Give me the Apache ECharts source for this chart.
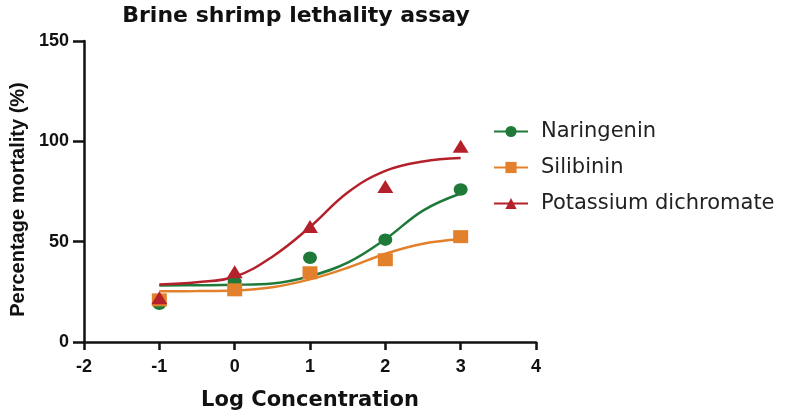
<!DOCTYPE html>
<html>
<head>
<meta charset="utf-8">
<script src="https://cdn.jsdelivr.net/npm/echarts@6/dist/echarts.min.js"></script>
<style>html,body{margin:0;padding:0;background:#fff}#c{width:788px;height:417px}</style>
</head>
<body>
<div id="c"></div>
<script>
// Measured points (Log Concentration, % mortality)
const logConc = [-1, 0, 1, 2, 3];
const naringenin = [19, 30, 42, 51, 76];
const silibinin = [21, 26, 34.5, 41, 52.5];
const potassium = [22, 35, 57.5, 77.5, 97.5];

// Fitted curves
const curveX = [-1, -0.5, 0, 0.5, 1, 1.5, 2, 2.5, 3];
const naringeninFit = [28.2, 28.3, 28.5, 29.2, 32.8, 39.5, 51.2, 65.5, 74];
const silibininFit = [25.3, 25.4, 25.7, 27.3, 31.2, 37, 44, 49, 51.2];
const potassiumFit = [28.7, 29.8, 32.5, 42.5, 57.3, 74.5, 85.3, 90, 91.7];

const xTicks = [-2, -1, 0, 1, 2, 3, 4];
const yTicks = [0, 50, 100, 150];

const names = ['Naringenin', 'Silibinin', 'Potassium dichromate'];
const colors = ['#1f7a3a', '#e3802c', '#b5212b'];
const symbols = ['circle', 'rect', 'triangle'];
const sizes = [[14, 12.5], [15, 13], [16, 13]];
const pts = [naringenin, silibinin, potassium];
const fits = [naringeninFit, silibininFit, potassiumFit];

const series = [];
names.forEach((n, i) => {
  series.push({
    name: n, type: 'line', smooth: 0.4,
    data: curveX.map((x, k) => [x, fits[i][k]]),
    symbol: symbols[i], showSymbol: false, symbolSize: 12,
    lineStyle: {color: colors[i], width: 2.5},
    itemStyle: {color: colors[i]},
    z: 2, silent: true
  });
  series.push({
    name: n + ' data', type: 'scatter',
    data: logConc.map((x, k) => [x, pts[i][k]]),
    symbol: symbols[i], symbolSize: sizes[i],
    itemStyle: {color: colors[i], opacity: 1},
    z: 3
  });
});

const chart = echarts.init(document.getElementById('c'));
chart.setOption({
  animation: false,
  title: {
    text: 'Brine shrimp lethality assay', left: 291, textAlign: 'center', top: 0,
    textStyle: {fontFamily: 'DejaVu Sans', fontWeight: 'bold', fontSize: 22, color: '#111'}
  },
  legend: {
    data: names, orient: 'vertical', left: 488, top: 116,
    itemWidth: 34, itemHeight: 14, itemGap: 15,
    textStyle: {fontFamily: 'DejaVu Sans', fontSize: 21, color: '#222', padding: [0, 0, 0, 8]}
  },
  grid: {left: 83, right: 252, top: 41, bottom: 75},
  xAxis: {
    type: 'value', min: xTicks[0], max: xTicks[xTicks.length - 1], interval: 1,
    name: 'Log Concentration', nameLocation: 'middle', nameGap: 48,
    nameTextStyle: {fontFamily: 'DejaVu Sans', fontWeight: 'bold', fontSize: 21, color: '#111'},
    axisLine: {onZero: false, lineStyle: {color: '#111', width: 2.5}},
    axisTick: {length: 8, lineStyle: {color: '#111', width: 2.5}},
    axisLabel: {fontFamily: 'Liberation Sans', fontWeight: 'bold', fontSize: 18, color: '#111', margin: 16},
    splitLine: {show: false}
  },
  yAxis: {
    type: 'value', min: yTicks[0], max: yTicks[yTicks.length - 1], interval: 50,
    name: 'Percentage mortality (%)', nameLocation: 'middle', nameGap: 56,
    nameTextStyle: {fontFamily: 'Liberation Sans', fontWeight: 'bold', fontSize: 20, color: '#111', padding: [0, 16, 0, 0]},
    axisLine: {show: true, onZero: false, lineStyle: {color: '#111', width: 2.5}},
    axisTick: {show: true, length: 11, lineStyle: {color: '#111', width: 2.5}},
    axisLabel: {fontFamily: 'Liberation Sans', fontWeight: 'bold', fontSize: 18, color: '#111', margin: 15},
    splitLine: {show: false}
  },
  series: series
});
</script>
</body>
</html>
